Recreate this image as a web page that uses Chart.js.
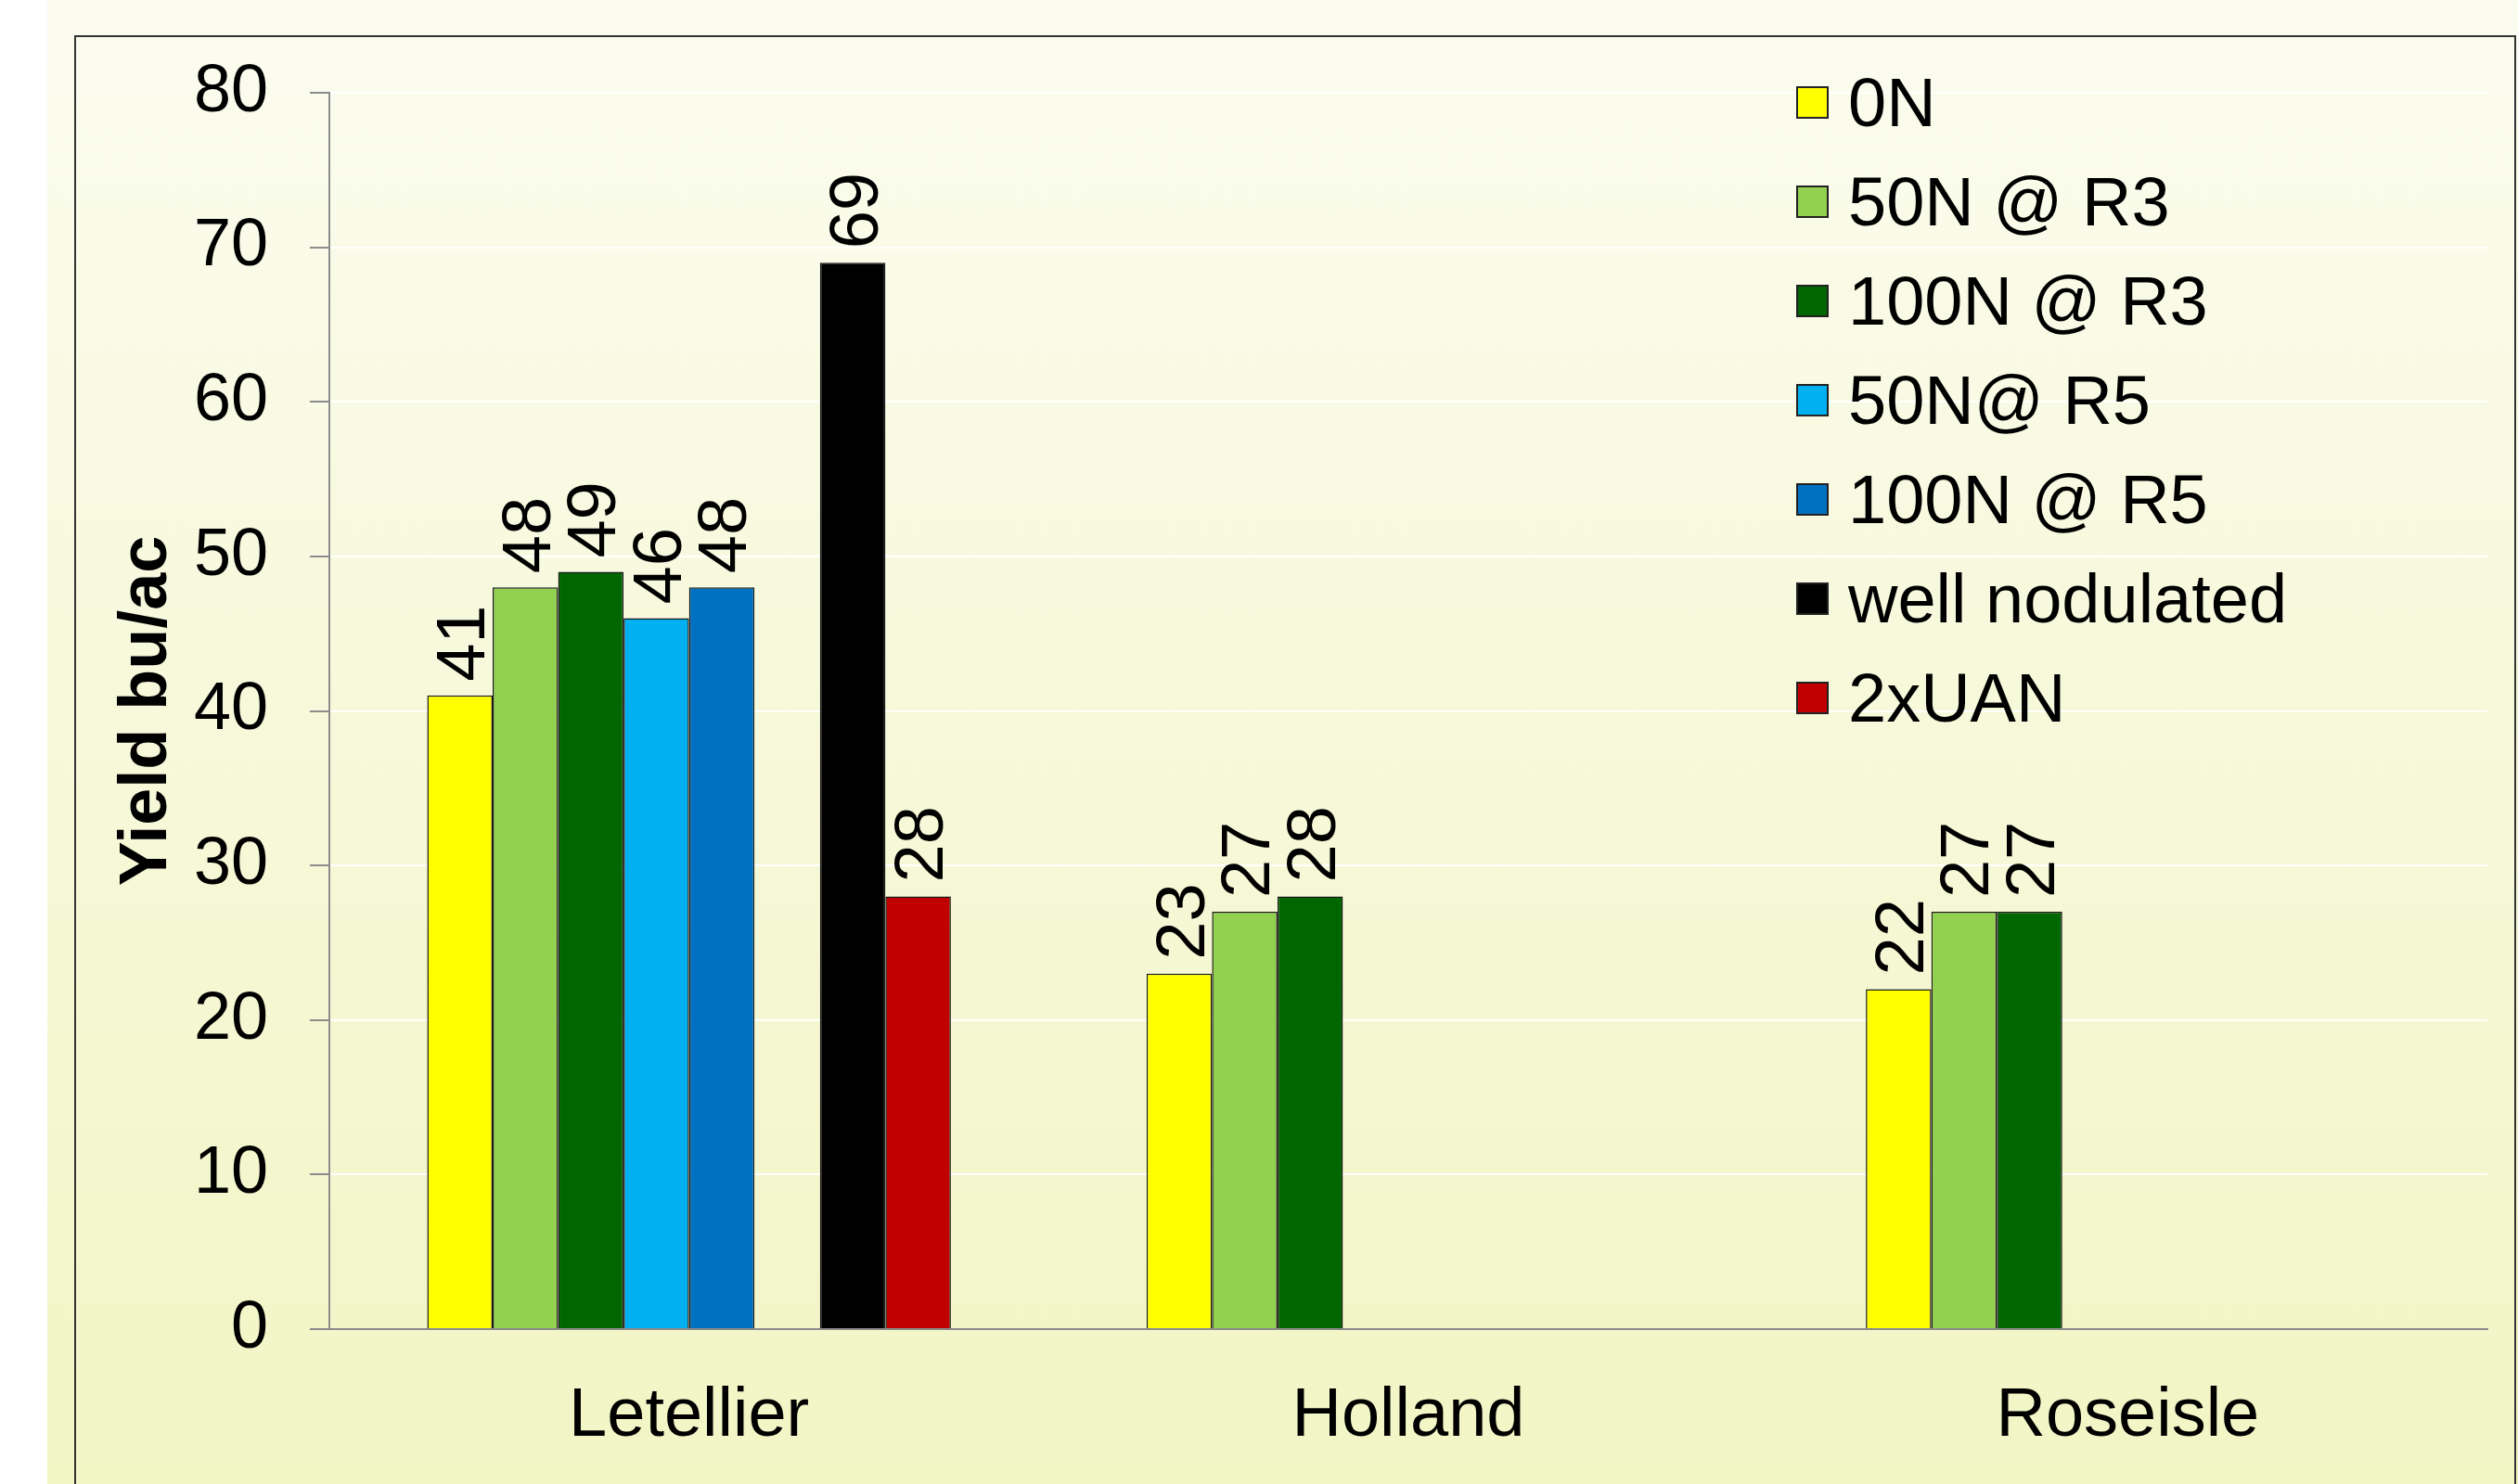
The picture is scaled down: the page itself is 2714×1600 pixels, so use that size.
<!DOCTYPE html>
<html>
<head>
<meta charset="utf-8">
<script src="https://cdn.jsdelivr.net/npm/chart.js@4"></script>
<style>
  html, body { margin:0; padding:0; background:#fff; overflow:hidden; }
  #panel { position:absolute; left:51px; top:0; width:2663px; height:1600px; background:linear-gradient(#fbfcef, #f2f5c4); }
  #frame { position:absolute; left:80px; top:38px; width:2632px; height:1620px; border:2px solid #333; box-sizing:border-box; }
  #wrap { position:absolute; left:0; top:0; width:2714px; height:1600px; }
  #legend { position:absolute; left:1936px; top:57px; font-family:"Liberation Sans", Arial, sans-serif; font-size:74px; color:#000; }
  .item { display:flex; align-items:center; height:107px; line-height:1; }
  .box { width:35px; height:35px; border:2px solid #222; margin-right:21px; box-sizing:border-box; }
</style>
</head>
<body>
<div id="panel"></div>
<div id="frame"></div>
<div id="wrap"><canvas id="c"></canvas></div>
<div id="legend"></div>
<script>
const categories = ['Letellier', 'Holland', 'Roseisle'];

const yield0N        = [41, 23, 22];
const yield50N_R3    = [48, 27, 27];
const yield100N_R3   = [49, 28, 27];
const yield50N_R5    = [46, null, null];
const yield100N_R5   = [48, null, null];
const gapSeries      = [null, null, null];   // empty slot between R5 and well nodulated
const wellNodulated  = [69, null, null];
const uan2x          = [28, null, null];

const seriesNames  = ['0N', '50N @ R3', '100N @ R3', '50N@ R5', '100N @ R5', '', 'well nodulated', '2xUAN'];
const seriesData   = [yield0N, yield50N_R3, yield100N_R3, yield50N_R5, yield100N_R5, gapSeries, wellNodulated, uan2x];
const seriesColors = ['#ffff00', '#92d050', '#006600', '#00b0f0', '#0070c0', 'rgba(0,0,0,0)', '#000000', '#c00000'];

const yMin = 0, yMax = 80, yStep = 10;
const FONT = '"Liberation Sans", Arial, sans-serif';
Chart.defaults.font.family = FONT;

// rotated value labels above each bar
const barValueLabels = {
  id: 'barValueLabels',
  afterDatasetsDraw(chart){
    const ctx = chart.ctx, size = 74;
    ctx.save();
    ctx.font = `${size}px ${FONT}`;
    ctx.fillStyle = '#000';
    ctx.textAlign = 'left';
    ctx.textBaseline = 'alphabetic';
    chart.data.datasets.forEach((ds, i) => {
      chart.getDatasetMeta(i).data.forEach((bar, j) => {
        const v = ds.data[j];
        if (v == null) return;
        ctx.save();
        ctx.translate(bar.x, bar.y - 15);
        ctx.rotate(-Math.PI / 2);
        ctx.fillText(String(v), 0, size * 0.716 / 2);
        ctx.restore();
      });
    });
    ctx.restore();
  }
};

const chart = new Chart(document.getElementById('c'), {
  type: 'bar',
  data: {
    labels: categories,
    datasets: seriesData.map((d, i) => ({
      label: seriesNames[i],
      data: d,
      backgroundColor: seriesColors[i],
      borderColor: i === 5 ? 'rgba(0,0,0,0)' : '#1a1a1a',
      borderWidth: 1.5,
      categoryPercentage: 0.728,
      barPercentage: 1
    }))
  },
  options: {
    responsive: true,
    maintainAspectRatio: false,
    animation: false,
    layout: { padding: { left: 0, top: 100, right: 33, bottom: 0 } },
    plugins: { legend: { display: false }, tooltip: { enabled: false } },
    scales: {
      x: {
        ticks: { color: '#000', font: { size: 74 }, padding: 50 },
        grid: { display: false, drawTicks: false },
        border: { display: true, color: '#8c8c8c', width: 2 },
        afterFit(s){ s.height = 167; }
      },
      y: {
        min: yMin, max: yMax,
        ticks: { stepSize: yStep, color: '#000', font: { size: 72 }, padding: 45 },
        grid: { color: 'rgba(255,255,255,0.95)', lineWidth: 2, tickColor: '#8c8c8c', tickLength: 21 },
        border: { display: true, color: '#8c8c8c', width: 2 },
        title: { display: true, text: 'Yield bu/ac', color: '#000', font: { size: 72, weight: 'bold' }, padding: { top: 116, bottom: 0 } },
        afterFit(s){ s.width = 355; }
      }
    }
  },
  plugins: [barValueLabels]
});

// html legend, skipping the blank spacer series
const legendEl = document.getElementById('legend');
chart.data.datasets.forEach(ds => {
  if (!ds.label) return;
  const row = document.createElement('div');
  row.className = 'item';
  row.innerHTML = `<span class="box" style="background:${ds.backgroundColor}"></span><span>${ds.label}</span>`;
  legendEl.appendChild(row);
});
</script>
</body>
</html>
